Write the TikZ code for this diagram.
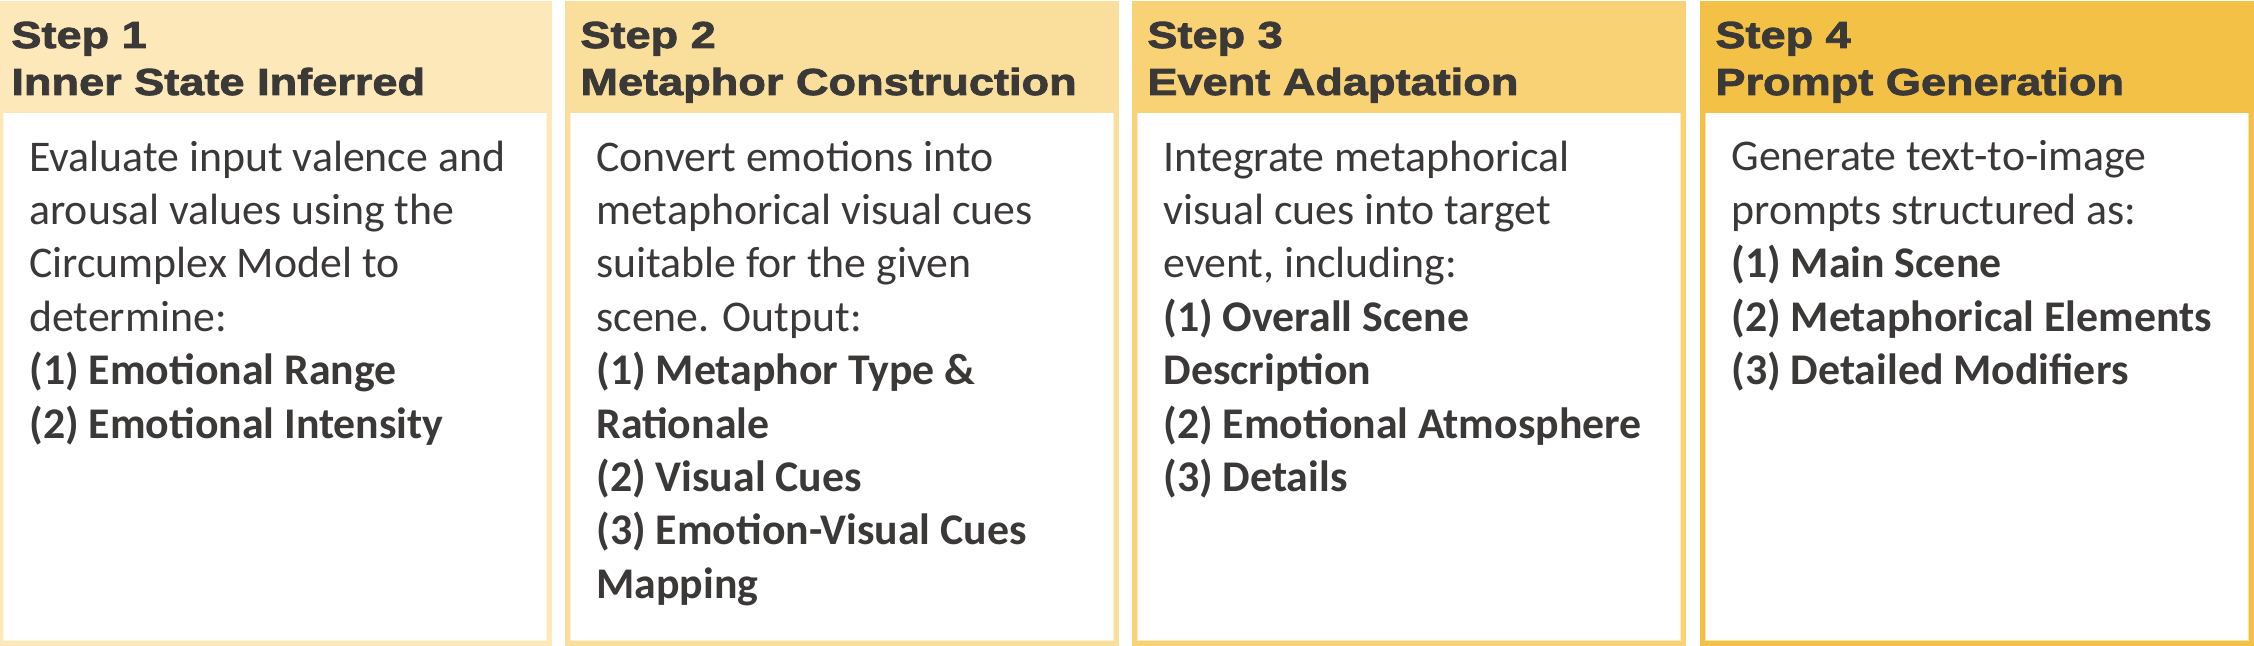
\documentclass[tikz,border=0pt]{standalone}
\usepackage{fontspec}
\setmainfont{Carlito}
\newfontfamily\headfont{Liberation Sans}[FakeStretch=1.2, BoldFeatures={FakeBold=2.2}]
\definecolor{hA}{RGB}{252,232,184}
\definecolor{hB}{RGB}{250,223,156}
\definecolor{hC}{RGB}{248,210,117}
\definecolor{hD}{RGB}{243,193,69}
\definecolor{txt}{RGB}{59,56,56}
\tikzset{
  headtext/.style={anchor=base west, inner sep=0pt, align=left, text=txt,
    font=\headfont\bfseries\fontsize{18.8}{23.5}\selectfont},
  bodytext/.style={anchor=base west, inner sep=0pt, align=left, text=txt,
    font=\fontsize{21.9}{26.7}\selectfont},
}
\newcommand{\panelbg}[2]{%
  \fill[#2] (#1-2,1) rectangle (#1+552,646);
  \fill[white] (#1+3,113) rectangle (#1+547,641);
  \draw[#2!45, line width=0.5pt] (#1+3.3,113) -- (#1+3.3,640.7) -- (#1+546.7,640.7) -- (#1+546.7,113);
}
\begin{document}
\begin{tikzpicture}[x=0.5pt,y=-0.5pt]
\useasboundingbox (0,0) rectangle (2254,646);
\panelbg{0}{hA}
\panelbg{567}{hB}
\panelbg{1134}{hC}
\panelbg{1702}{hD}

% anchor base = baseline of the last line
\node[headtext] (t1) at (11,95) {Step 1\\Inner State Inferred};
\node[headtext] (t2) at (580,95) {Step 2\\Metaphor Construction};
\node[headtext] (t3) at (1147,95) {Step 3\\Event Adaptation};
\node[headtext] (t4) at (1715,95) {Step 4\\Prompt Generation};

\node[bodytext] (b1) at (29,438) {Evaluate input valence and\\arousal values using the\\Circumplex Model to\\determine:\\\textbf{(1) Emotional Range}\\\textbf{(2) Emotional Intensity}};
\node[bodytext] (b2) at (596,598.2) {Convert emotions into\\metaphorical visual cues\\suitable for the given\\scene. Output:\\\textbf{(1) Metaphor Type \&}\\\textbf{Rationale}\\\textbf{(2) Visual Cues}\\\textbf{(3) Emotion-Visual Cues}\\\textbf{Mapping}};
\node[bodytext] (b3) at (1163,491.4) {Integrate metaphorical\\visual cues into target\\event, including:\\\textbf{(1) Overall Scene}\\\textbf{Description}\\\textbf{(2) Emotional Atmosphere}\\\textbf{(3) Details}};
\node[bodytext] (b4) at (1731,384.6) {Generate text-to-image\\prompts structured as:\\\textbf{(1) Main Scene}\\\textbf{(2) Metaphorical Elements}\\\textbf{(3) Detailed Modifiers}};
\end{tikzpicture}
\end{document}
